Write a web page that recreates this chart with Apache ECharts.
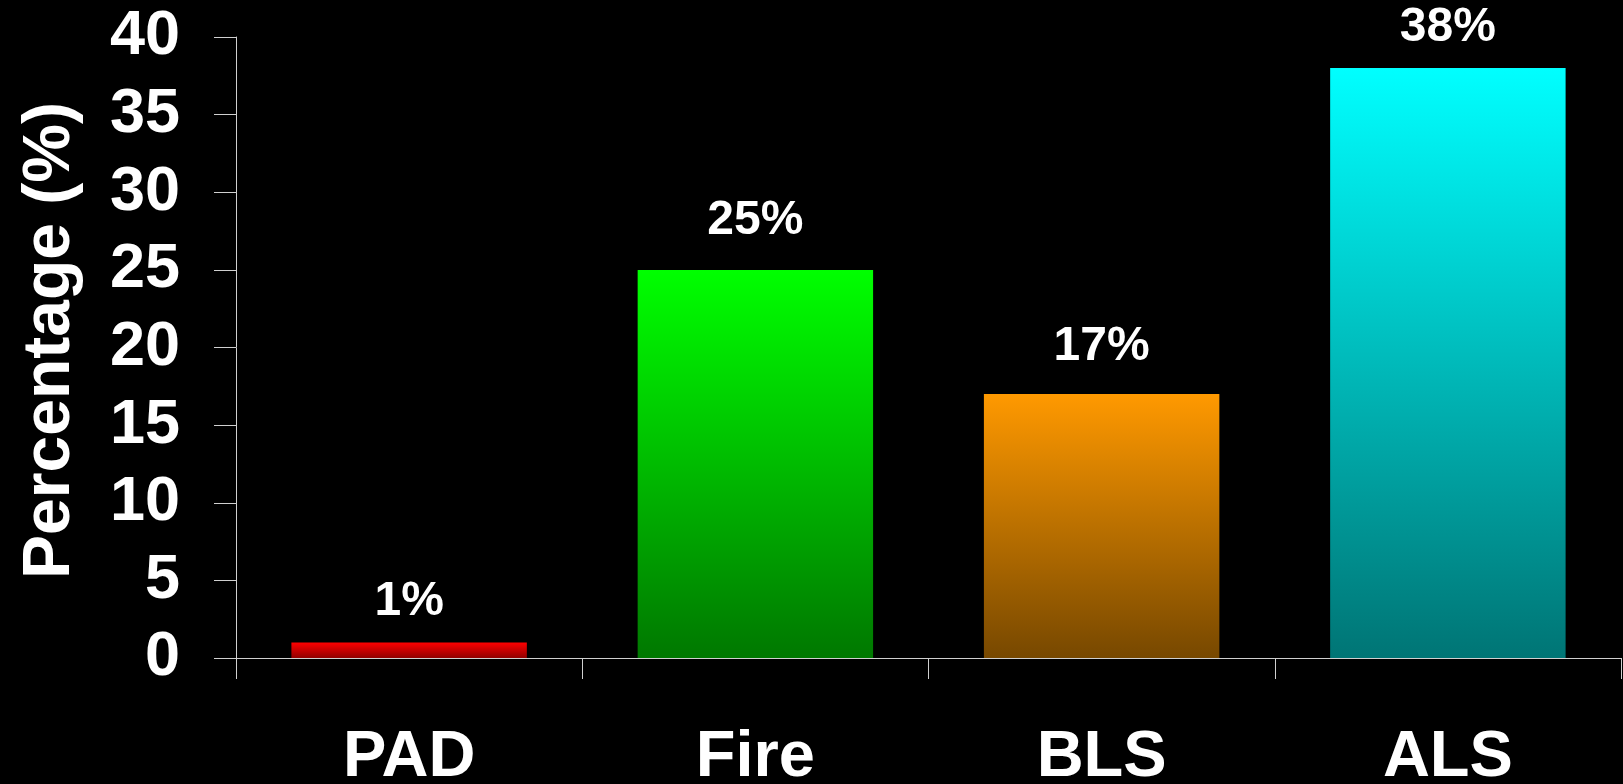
<!DOCTYPE html>
<html>
<head>
<meta charset="utf-8">
<script src="https://cdn.jsdelivr.net/npm/echarts@6/dist/echarts.min.js"></script>
<style>
html,body{margin:0;padding:0;background:#000;}
#c{width:1623px;height:784px;}
</style>
</head>
<body>
<div id="c"></div>
<script>
const categories = ['PAD', 'Fire', 'BLS', 'ALS'];
const values = [1, 25, 17, 38];
const topColors = ['#ff0000', '#00ff00', '#ff9900', '#00ffff'];
const bottomColors = ['#900000', '#007800', '#774800', '#007575'];
const labelDistances = [17, 25, 23, 16];
const yAxisName = 'Percentage (%)';

const chart = echarts.init(document.getElementById('c'));
const font = '"Liberation Sans", Arial, sans-serif';
chart.setOption({
  backgroundColor: '#000000',
  animation: false,
  grid: { left: 236, right: 2, top: 37, bottom: 126, containLabel: false, outerBoundsMode: 'none' },
  xAxis: {
    type: 'category',
    data: categories,
    axisLine: { lineStyle: { color: '#d0d0d0', width: 1 } },
    axisTick: { show: true, length: 21, lineStyle: { color: '#d0d0d0' } },
    axisLabel: { color: '#ffffff', fontSize: 65, fontWeight: 'bold', fontFamily: font, margin: 68 }
  },
  yAxis: {
    type: 'value',
    min: 0, max: 40, interval: 5,
    name: yAxisName,
    nameLocation: 'middle',
    nameGap: 152,
    nameTextStyle: { color: '#ffffff', fontSize: 66, fontWeight: 'bold', fontFamily: font, padding: [0, 0, 0, 14] },
    splitLine: { show: false },
    axisLine: { show: true, lineStyle: { color: '#d0d0d0', width: 1 } },
    axisTick: { show: true, length: 22, lineStyle: { color: '#d0d0d0' } },
    axisLabel: { color: '#ffffff', fontSize: 63, fontWeight: 'bold', fontFamily: font, margin: 56, padding: [8, 0, 0, 0] }
  },
  series: [{
    type: 'bar',
    barWidth: '68%',
    data: values.map((v, i) => ({
      value: v,
      label: { distance: labelDistances[i] },
      itemStyle: {
        color: new echarts.graphic.LinearGradient(0, 0, 0, 1, [
          { offset: 0, color: topColors[i] },
          { offset: 1, color: bottomColors[i] }
        ])
      }
    })),
    label: {
      show: true,
      position: 'top',
      formatter: '{c}%',
      color: '#ffffff',
      fontSize: 48,
      fontWeight: 'bold',
      fontFamily: font
    }
  }]
});
</script>
</body>
</html>
